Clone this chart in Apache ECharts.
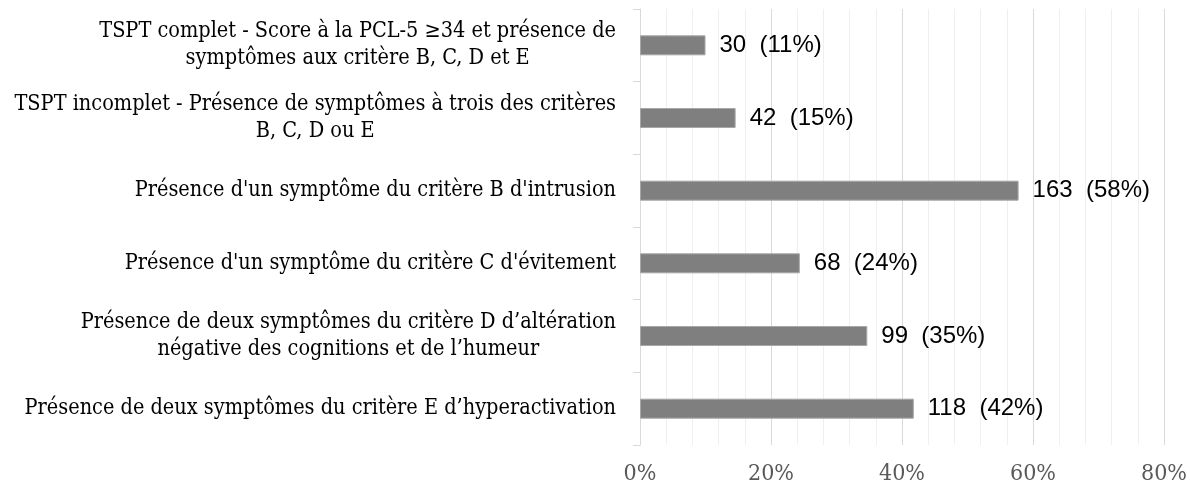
<!DOCTYPE html>
<html>
<head>
<meta charset="utf-8">
<script src="https://cdn.jsdelivr.net/npm/echarts@6/dist/echarts.min.js"></script>
<style>
html,body{margin:0;padding:0;background:#fff;}
#chart{width:1190px;height:485px;}
</style>
</head>
<body>
<div id="chart"></div>
<script>
var categories = [
  "TSPT complet - Score à la PCL-5 ≥34 et présence de\nsymptômes aux critère B, C, D et E",
  "TSPT incomplet - Présence de symptômes à trois des critères\nB, C, D ou E",
  "Présence d'un symptôme du critère B d'intrusion",
  "Présence d'un symptôme du critère C d'évitement",
  "Présence de deux symptômes du critère D d’altération\nnégative des cognitions et de l’humeur",
  "Présence de deux symptômes du critère E d’hyperactivation"
];
var counts = [30, 42, 163, 68, 99, 118];
var pctLabels = [11, 15, 58, 24, 35, 42];
var barValues = [10.0, 14.6, 57.8, 24.4, 34.7, 41.8];
var xTicks = [0, 20, 40, 60, 80];

var serif = '"DejaVu Serif Condensed", "DejaVu Serif", serif';
var chart = echarts.init(document.getElementById('chart'), null, {renderer: 'canvas'});
chart.setOption({
  animation: false,
  backgroundColor: '#ffffff',
  grid: {left: 640, right: 26, top: 9, bottom: 40, containLabel: false, outerBoundsMode: 'none'},
  xAxis: {
    type: 'value',
    min: xTicks[0],
    max: xTicks[xTicks.length - 1],
    interval: 20,
    axisLine: {show: false},
    axisTick: {show: false},
    axisLabel: {
      formatter: function (v) { return v + '%'; },
      fontFamily: serif,
      fontSize: 23,
      color: '#595959',
      margin: 18
    },
    splitLine: {show: true, lineStyle: {color: '#d9d9d9', width: 1}},
    minorTick: {show: false, splitNumber: 5},
    minorSplitLine: {show: true, lineStyle: {color: '#efefef', width: 1}}
  },
  yAxis: {
    type: 'category',
    inverse: true,
    data: categories,
    axisLine: {show: true, lineStyle: {color: '#d9d9d9', width: 1}},
    axisTick: {show: true, length: 7, lineStyle: {color: '#d9d9d9'}},
    axisLabel: {
      margin: 24,
      color: '#000',
      fontFamily: serif,
      fontSize: 21.5,
      lineHeight: 27,
      formatter: function (v) {
        return v.split('\n').map(function (l) { return '{c|' + l + '}'; }).join('\n');
      },
      rich: {
        c: {align: 'center', fontFamily: serif, fontSize: 21.5, lineHeight: 27, color: '#000'}
      }
    },
    splitLine: {show: false}
  },
  series: [{
    type: 'bar',
    data: barValues,
    barWidth: 20,
    itemStyle: {color: '#7f7f7f', borderColor: '#a6a6a6', borderWidth: 1},
    label: {
      show: true,
      position: 'right',
      distance: 14,
      fontFamily: '"Liberation Sans", Arial, sans-serif',
      fontSize: 24,
      color: '#000',
      formatter: function (p) {
        return counts[p.dataIndex] + '  (' + pctLabels[p.dataIndex] + '%)';
      }
    }
  }]
});
</script>
</body>
</html>
